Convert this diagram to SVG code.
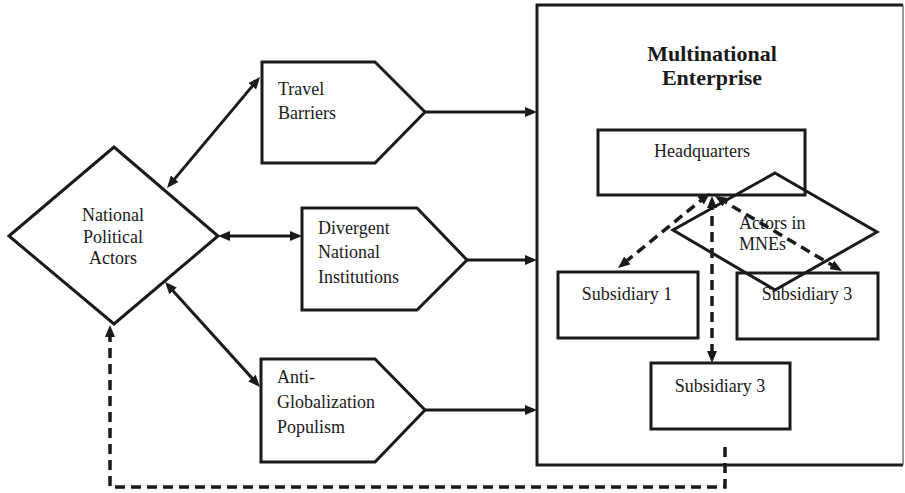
<svg xmlns="http://www.w3.org/2000/svg" width="905" height="493" viewBox="0 0 905 493" font-family="Liberation Serif, Times New Roman, serif">
<style>
.shape{fill:none;stroke:#1a1a1a;stroke-width:3;stroke-linejoin:miter}
.lbl{font-family:'Liberation Serif','Times New Roman',serif;font-size:18px;fill:#1a1a1a}
.title{font-family:'Liberation Serif','Times New Roman',serif;font-size:22px;font-weight:bold;fill:#1a1a1a}
.conn{fill:none;stroke:#1a1a1a;stroke-width:3}
.dash{fill:none;stroke:#1a1a1a;stroke-width:3.5;stroke-dasharray:10 6}
</style>
<defs>
<marker id="ah" viewBox="0 0 12 10" refX="8" refY="5" markerWidth="12" markerHeight="10" markerUnits="userSpaceOnUse" orient="auto-start-reverse">
<path d="M0,0L12,5L0,10z" fill="#1a1a1a"/>
</marker>
</defs>
<rect width="905" height="493" fill="#ffffff"/>
<g id="mne">
<path d="M903,5 H537 V465 H903" class="shape"/>
<line x1="903" y1="5" x2="903" y2="465" stroke="#555" stroke-width="1.2"/>
<text class="title" x="712" y="61" text-anchor="middle">Multinational</text>
<text class="title" x="712" y="85" text-anchor="middle">Enterprise</text>
</g>
<g id="national-political-actors">
<polygon class="shape" points="9,236 114,147 218,236 114,324"/>
<text class="lbl" x="113" y="221" text-anchor="middle">National</text>
<text class="lbl" x="113" y="243" text-anchor="middle">Political</text>
<text class="lbl" x="113" y="264" text-anchor="middle">Actors</text>
</g>
<g id="travel-barriers">
<polygon class="shape" points="262,62 375,62 425,112 375,163 262,163"/>
<text class="lbl" x="278" y="95">Travel</text>
<text class="lbl" x="278" y="119">Barriers</text>
</g>
<g id="divergent-national-institutions">
<polygon class="shape" points="302,208 417,208 467,260 417,310 302,310"/>
<text class="lbl" x="318" y="234">Divergent</text>
<text class="lbl" x="318" y="258">National</text>
<text class="lbl" x="318" y="283">Institutions</text>
</g>
<g id="anti-globalization-populism">
<polygon class="shape" points="261,359 375,359 425,410 375,462 261,462"/>
<text class="lbl" x="277" y="383">Anti-</text>
<text class="lbl" x="277" y="408">Globalization</text>
<text class="lbl" x="277" y="433">Populism</text>
</g>
<g id="headquarters">
<rect class="shape" x="598" y="130" width="207" height="65"/>
<text class="lbl" x="702" y="157" text-anchor="middle">Headquarters</text>
</g>
<g id="actors-in-mnes">
<polygon class="shape" points="775,173 877,232 775,290 673,230"/>
<text class="lbl" x="739" y="229">Actors in</text>
<text class="lbl" x="739" y="250">MNEs</text>
</g>
<g id="subsidiary-1">
<rect class="shape" x="558" y="272" width="140" height="66"/>
<text class="lbl" x="627" y="300" text-anchor="middle">Subsidiary 1</text>
</g>
<g id="subsidiary-3-right">
<rect class="shape" x="737" y="273" width="141" height="66"/>
<text class="lbl" x="807" y="300" text-anchor="middle">Subsidiary 3</text>
</g>
<g id="subsidiary-3-bottom">
<rect class="shape" x="651" y="363" width="139" height="66"/>
<text class="lbl" x="720" y="392" text-anchor="middle">Subsidiary 3</text>
</g>
<g id="connectors">
<line class="conn" x1="169.6" y1="184.9" x2="257.4" y2="80.1" marker-start="url(#ah)" marker-end="url(#ah)"/>
<line class="conn" x1="222" y1="236" x2="298" y2="236" marker-start="url(#ah)" marker-end="url(#ah)"/>
<line class="conn" x1="167.7" y1="285" x2="257.3" y2="384" marker-start="url(#ah)" marker-end="url(#ah)"/>
<line class="conn" x1="425" y1="112" x2="533" y2="112" marker-end="url(#ah)"/>
<line class="conn" x1="467" y1="260" x2="533" y2="260" marker-end="url(#ah)"/>
<line class="conn" x1="425" y1="410" x2="533" y2="410" marker-end="url(#ah)"/>
<line class="dash" x1="706.9" y1="195.5" x2="621.1" y2="265.5" marker-start="url(#ah)" marker-end="url(#ah)"/>
<line class="dash" x1="718.4" y1="198" x2="838.6" y2="269" marker-start="url(#ah)" marker-end="url(#ah)"/>
<line class="dash" x1="712" y1="200" x2="712" y2="359" marker-start="url(#ah)" marker-end="url(#ah)"/>
<polyline class="dash" points="725,447 725,487 110,487 110,329" marker-end="url(#ah)"/>
</g>
</svg>
